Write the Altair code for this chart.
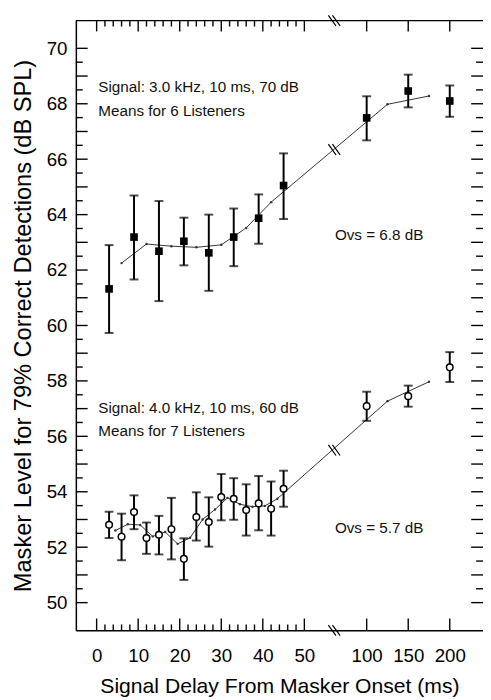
import altair as alt
import pandas as pd

# ---------------- data ----------------
top_delay = [3, 9, 15, 21, 27, 33, 39, 45, 100, 150, 200]
top_mean = [61.32, 63.19, 62.68, 63.04, 62.62, 63.19, 63.87, 65.05, 67.49, 68.46, 68.10]
top_hi = [62.90, 64.69, 64.49, 63.89, 64.00, 64.22, 64.73, 66.21, 68.27, 69.05, 68.66]
top_lo = [59.73, 61.66, 60.88, 62.17, 61.25, 62.14, 62.95, 63.84, 66.68, 67.87, 67.53]
top_fit_delay = [6, 12, 18, 24, 30, 36, 42, 125, 175]
top_fit = [62.25, 62.94, 62.86, 62.82, 62.91, 63.52, 64.45, 67.98, 68.28]

bot_delay = [3, 6, 9, 12, 15, 18, 21, 24, 27, 30, 33, 36, 39, 42, 45, 100, 150, 200]
bot_mean = [52.81, 52.38, 53.27, 52.33, 52.45, 52.65, 51.58, 53.09, 52.91, 53.81,
            53.75, 53.34, 53.58, 53.39, 54.11, 57.09, 57.45, 58.49]
bot_hi = [53.28, 53.21, 53.87, 52.89, 53.13, 53.78, 52.32, 53.98, 53.80, 54.64,
          54.49, 54.27, 54.57, 54.37, 54.76, 57.61, 57.83, 59.04]
bot_lo = [52.33, 51.53, 52.65, 51.76, 51.74, 51.56, 50.82, 52.24, 52.02, 52.97,
          52.99, 52.42, 52.61, 52.42, 53.46, 56.56, 57.07, 57.96]
bot_fit_delay = [4.5, 7.5, 10.5, 13.5, 16.5, 19.5, 22.5, 25.5, 28.5, 31.5, 34.5,
                 37.5, 40.5, 43.5, 125, 175]
bot_fit = [52.60, 52.83, 52.80, 52.39, 52.55, 52.12, 52.34, 53.00, 53.36, 53.78,
           53.55, 53.46, 53.49, 53.75, 57.27, 57.97]

x_major = [0, 10, 20, 30, 40, 50, 100, 150, 200]
x_minor = [2, 4, 6, 8, 12, 14, 16, 18, 22, 24, 26, 28, 32, 34, 36, 38, 42, 44, 46, 48]
y_labels = [50, 52, 54, 56, 58, 60, 62, 64, 66, 68, 70]
y_major = list(range(50, 71))
y_minor = [50.5 + i for i in range(20)]

note_text = ["Signal: 3.0 kHz, 10 ms, 70 dB", "Means for 6 Listeners", "Ovs = 6.8 dB",
             "Signal: 4.0 kHz, 10 ms, 60 dB", "Means for 7 Listeners", "Ovs = 5.7 dB"]
note_x = [0.4, 0.4, 74.5, 0.4, 0.4, 74.5]
note_y = [68.60, 67.73, 63.25, 57.01, 56.20, 52.69]

break_delay = [74.2, 74.2, 74.2, 74.2]
break_level = [71.0, 66.35, 55.50, 49.0]

# ---------------- scales (broken x axis as a piecewise scale) ----------------
W, H = 414, 620
X_LO, X_HI = -5, 240
Y_LO, Y_HI = 49, 71
U = W / 98.0
xs = alt.Scale(domain=[X_LO, 50, 100, X_HI], range=[0, 55 * U, 70 * U, 98 * U], nice=False, zero=False)
ys = alt.Scale(domain=[Y_LO, Y_HI], nice=False, zero=False)

# ---------------- tables ----------------
top_df = pd.DataFrame({"delay": top_delay, "mean": top_mean, "hi": top_hi, "lo": top_lo})
bot_df = pd.DataFrame({"delay": bot_delay, "mean": bot_mean, "hi": bot_hi, "lo": bot_lo})
top_fit_df = pd.DataFrame({"delay": top_fit_delay, "mean": top_fit})
bot_fit_df = pd.DataFrame({"delay": bot_fit_delay, "mean": bot_fit})
note_df = pd.DataFrame({"delay": note_x, "mean": note_y, "text": note_text})
break_df = pd.DataFrame({"delay": break_delay, "mean": break_level})

FONT = "Liberation Sans"
INK = "black"

# one identical axis definition per channel, shared by every layer
main_y = alt.Axis(orient="left", values=y_labels, ticks=False, domain=True, domainColor=INK,
                  domainWidth=1.5, labelFontSize=19, labelColor=INK, labelPadding=9, labelFont=FONT,
                  title="Masker Level for 79% Correct Detections (dB SPL)", titleFont=FONT,
                  titleFontSize=24, titleFontWeight="normal", titleColor=INK, titlePadding=11,
                  grid=False)
main_x = alt.Axis(orient="bottom", values=x_major, ticks=False, domain=True, domainColor=INK,
                  domainWidth=1.5, labelFontSize=19, labelColor=INK, labelPadding=17, labelFont=FONT,
                  labelOverlap=False, labelFlush=False, labelBound=False,
                  title="Signal Delay From Masker Onset (ms)", titleFont=FONT, titleFontSize=21.5,
                  titleFontWeight="normal", titleColor=INK, titlePadding=10, grid=False)


def X(field="delay"):
    return alt.X(f"{field}:Q", scale=xs, axis=main_x)


def Y(field="mean"):
    return alt.Y(f"{field}:Q", scale=ys, axis=main_y)


# inward ticks and top frame line as stroked path symbols anchored on the frame edges
def edge_marks(xvals, yvals, path, length):
    df = pd.DataFrame({"delay": xvals, "mean": yvals})
    return alt.Chart(df).mark_point(shape=path, size=length * length, filled=False, stroke=INK,
                                    strokeWidth=1.4, opacity=1).encode(x=X(), y=Y())


RIGHTWARD, LEFTWARD, UPWARD, DOWNWARD = "M 0 0 L 2 0", "M 0 0 L -2 0", "M 0 0 L 0 -2", "M 0 0 L 0 2"
tick_layers = [
    edge_marks([X_LO] * len(y_major), y_major, RIGHTWARD, 12),
    edge_marks([X_LO] * len(y_minor), y_minor, RIGHTWARD, 7),
    edge_marks([X_HI] * len(y_major), y_major, LEFTWARD, 12),
    edge_marks([X_HI] * len(y_minor), y_minor, LEFTWARD, 7),
    edge_marks(x_major, [Y_LO] * len(x_major), UPWARD, 12),
    edge_marks(x_minor, [Y_LO] * len(x_minor), UPWARD, 6),
    edge_marks(x_major, [Y_HI] * len(x_major), DOWNWARD, 11),
    edge_marks(x_minor, [Y_HI] * len(x_minor), DOWNWARD, 6),
    edge_marks([X_LO], [Y_HI], RIGHTWARD, W),
]

fit_line_color = "#333333"


def series_layers(df, fit_df, square):
    line = alt.Chart(fit_df).mark_line(color=fit_line_color, strokeWidth=1).encode(x=X(), y=Y())
    dots = alt.Chart(fit_df).mark_circle(color=fit_line_color, size=6, opacity=1).encode(x=X(), y=Y())
    bars = alt.Chart(df).mark_rule(color=INK, strokeWidth=2).encode(x=X(), y=Y("lo"), y2="hi:Q")
    cap_hi = alt.Chart(df).mark_tick(color=INK, orient="horizontal", size=9, thickness=2).encode(
        x=X(), y=Y("hi"))
    cap_lo = alt.Chart(df).mark_tick(color=INK, orient="horizontal", size=9, thickness=2).encode(
        x=X(), y=Y("lo"))
    if square:
        pts = alt.Chart(df).mark_square(color=INK, size=60, opacity=1).encode(x=X(), y=Y())
    else:
        pts = alt.Chart(df).mark_point(shape="circle", filled=False, fill="white", fillOpacity=1,
                                       stroke=INK, strokeWidth=1.5, size=45, opacity=1).encode(x=X(), y=Y())
    return [line, dots, bars, cap_hi, cap_lo, pts]


BREAK_PATH = "M -1.05 -0.9 L 0.25 0.9 M -0.35 -0.9 L 0.95 0.9"
breaks = alt.Chart(break_df).mark_point(shape=BREAK_PATH, size=144, filled=False, stroke=INK,
                                        strokeWidth=1.2, opacity=1).encode(x=X(), y=Y())

notes = alt.Chart(note_df).mark_text(align="left", baseline="middle", fontSize=15.5, font=FONT,
                                     color="#111111").encode(x=X(), y=Y(), text="text:N")

layers = (series_layers(top_df, top_fit_df, True) + series_layers(bot_df, bot_fit_df, False)
          + [breaks, notes] + tick_layers)

chart = alt.layer(*layers).properties(
    width=W, height=H,
    autosize=alt.AutoSizeParams(type="none"),
    padding={"left": 69, "top": 7, "right": 0, "bottom": 65},
).configure_view(strokeWidth=0).configure_axis(grid=False)

chart.save("out.html", embed_options={"renderer": "svg", "actions": False})
